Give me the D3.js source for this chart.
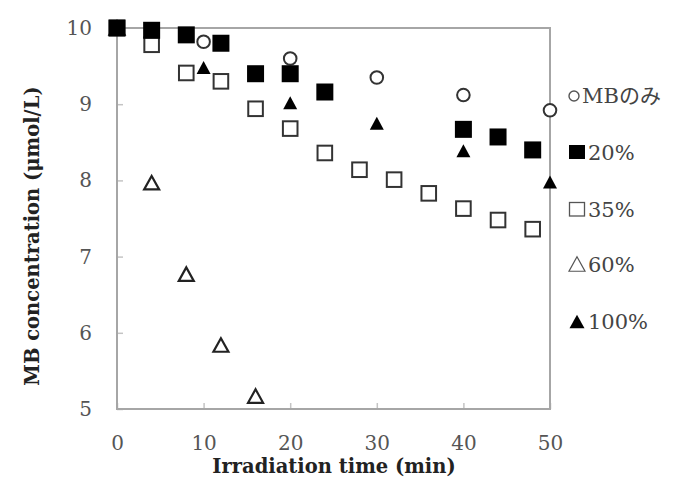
<!DOCTYPE html>
<html>
<head>
<meta charset="utf-8">
<script src="https://cdn.jsdelivr.net/npm/d3@7"></script>
<style>
  html, body { margin: 0; padding: 0; background: #fff; }
  svg { display: block; }
</style>
</head>
<body>
<div id="chart"></div>
<script>
// data
const timeMB = [0, 10, 20, 30, 40, 50]
const concMB = [10, 9.82, 9.60, 9.35, 9.12, 8.92]

const time20 = [0, 4, 8, 12, 16, 20, 24, 40, 44, 48]
const conc20 = [10, 9.97, 9.91, 9.80, 9.40, 9.40, 9.16, 8.67, 8.57, 8.40]

const time35 = [0, 4, 8, 12, 16, 20, 24, 28, 32, 36, 40, 44, 48]
const conc35 = [10, 9.78, 9.41, 9.30, 8.94, 8.68, 8.36, 8.14, 8.01, 7.83, 7.63, 7.48, 7.36]

const time60 = [0, 4, 8, 12, 16]
const conc60 = [10, 7.97, 6.77, 5.84, 5.17]

const time100 = [0, 10, 20, 30, 40, 50]
const conc100 = [10, 9.48, 9.02, 8.75, 8.39, 7.98]

const xTicks = [0, 10, 20, 30, 40, 50]
const yTicks = [5, 6, 7, 8, 9, 10]
const legendLabels = ['MBのみ', '20%', '35%', '60%', '100%']

const width = 683
const height = 480
const margin = { left: 117, right: 133, top: 28, bottom: 71 }

const svg = d3.select('#chart')
  .append('svg')
  .attr('width', width)
  .attr('height', height)

const x = d3.scaleLinear().domain([0, 50]).range([margin.left, width - margin.right])
const y = d3.scaleLinear().domain([5, 10]).range([height - margin.bottom, margin.top])

const tickFont = '"DejaVu Serif", "Liberation Serif", serif'

// axes (ticks point inward)
const gx = svg.append('g')
  .attr('transform', `translate(0,${y(5)})`)
  .call(d3.axisBottom(x).tickValues(xTicks).tickSize(-6).tickPadding(27).tickFormat(d3.format('d')))
gx.select('.domain').remove()

const gy = svg.append('g')
  .attr('transform', `translate(${x(0)},0)`)
  .call(d3.axisLeft(y).tickValues(yTicks).tickSize(-6).tickPadding(25).tickFormat(d3.format('d')))
gy.select('.domain').remove()

svg.selectAll('.tick line').attr('stroke', '#c4c4c4').attr('stroke-width', 1.5)
svg.selectAll('.tick text')
  .attr('font-family', tickFont)
  .attr('font-size', 20)
  .attr('fill', '#555')

// frame
svg.append('rect')
  .attr('x', x(0))
  .attr('y', y(10))
  .attr('width', x(50) - x(0))
  .attr('height', y(5) - y(10))
  .attr('fill', 'none')
  .attr('stroke', '#a6a6a6')
  .attr('stroke-width', 2)

// axis titles
svg.append('text')
  .attr('x', 334)
  .attr('y', 473)
  .attr('text-anchor', 'middle')
  .attr('font-family', tickFont)
  .attr('font-weight', 'bold')
  .attr('font-size', 19.5)
  .attr('fill', '#222')
  .text('Irradiation time (min)')

svg.append('text')
  .attr('transform', 'translate(39,236) rotate(-90)')
  .attr('text-anchor', 'middle')
  .attr('font-family', tickFont)
  .attr('font-weight', 'bold')
  .attr('font-size', 19.5)
  .attr('fill', '#222')
  .text('MB concentration (μmol/L)')

// triangle centred on its bounding box
function triPath(w, h) {
  return `M0,${-h / 2}L${w / 2},${h / 2}L${-w / 2},${h / 2}Z`
}

const pts = (ts, cs) => ts.map((t, i) => ({ t, c: cs[i] }))
const plot = svg.append('g')

// MB only: open circles
plot.selectAll('.mb')
  .data(pts(timeMB, concMB))
  .enter().append('circle')
  .attr('cx', d => x(d.t))
  .attr('cy', d => y(d.c))
  .attr('r', 6.3)
  .attr('fill', '#fff')
  .attr('stroke', '#333')
  .attr('stroke-width', 2)

// 35%: open squares
plot.selectAll('.s35')
  .data(pts(time35, conc35))
  .enter().append('rect')
  .attr('x', d => x(d.t) - 7.3)
  .attr('y', d => y(d.c) - 7.3)
  .attr('width', 14.6)
  .attr('height', 14.6)
  .attr('fill', '#fff')
  .attr('stroke', '#333')
  .attr('stroke-width', 2)

// 60%: open triangles
plot.selectAll('.s60')
  .data(pts(time60, conc60))
  .enter().append('path')
  .attr('d', triPath(15, 13.5))
  .attr('transform', d => `translate(${x(d.t)},${y(d.c)})`)
  .attr('fill', '#fff')
  .attr('stroke', '#222')
  .attr('stroke-width', 2.2)
  .attr('stroke-linejoin', 'miter')

// 100%: filled triangles
plot.selectAll('.s100')
  .data(pts(time100, conc100))
  .enter().append('path')
  .attr('d', triPath(14, 13))
  .attr('transform', d => `translate(${x(d.t)},${y(d.c)})`)
  .attr('fill', '#000')

// 20%: filled squares
plot.selectAll('.s20')
  .data(pts(time20, conc20))
  .enter().append('rect')
  .attr('x', d => x(d.t) - 8.5)
  .attr('y', d => y(d.c) - 8.5)
  .attr('width', 17)
  .attr('height', 17)
  .attr('fill', '#000')

// legend
const legendY = [103, 160, 217, 272, 329]
const legend = svg.append('g')
const lgText = '#444'

legend.append('circle')
  .attr('cx', 574).attr('cy', legendY[0] - 7).attr('r', 5)
  .attr('fill', 'none').attr('stroke', '#555').attr('stroke-width', 1.4)
legend.append('rect')
  .attr('x', 569).attr('y', legendY[1] - 15).attr('width', 16).attr('height', 14)
  .attr('fill', '#000')
legend.append('rect')
  .attr('x', 569.5).attr('y', legendY[2] - 14.5).attr('width', 15).attr('height', 13.5)
  .attr('fill', 'none').attr('stroke', '#555').attr('stroke-width', 1.3)
legend.append('path')
  .attr('d', triPath(16, 14.5))
  .attr('transform', `translate(577,${legendY[3] - 8})`)
  .attr('fill', 'none').attr('stroke', '#555').attr('stroke-width', 1.2)
legend.append('path')
  .attr('d', triPath(15, 13.5))
  .attr('transform', `translate(577,${legendY[4] - 7.5})`)
  .attr('fill', '#000')

legend.selectAll('.lt')
  .data(legendLabels)
  .enter().append('text')
  .attr('x', (d, i) => i === 0 ? 582 : 588)
  .attr('y', (d, i) => legendY[i])
  .attr('font-family', '"DejaVu Serif", "Noto Sans CJK JP", serif')
  .attr('font-size', 21)
  .attr('fill', lgText)
  .text(d => d)
</script>
</body>
</html>
